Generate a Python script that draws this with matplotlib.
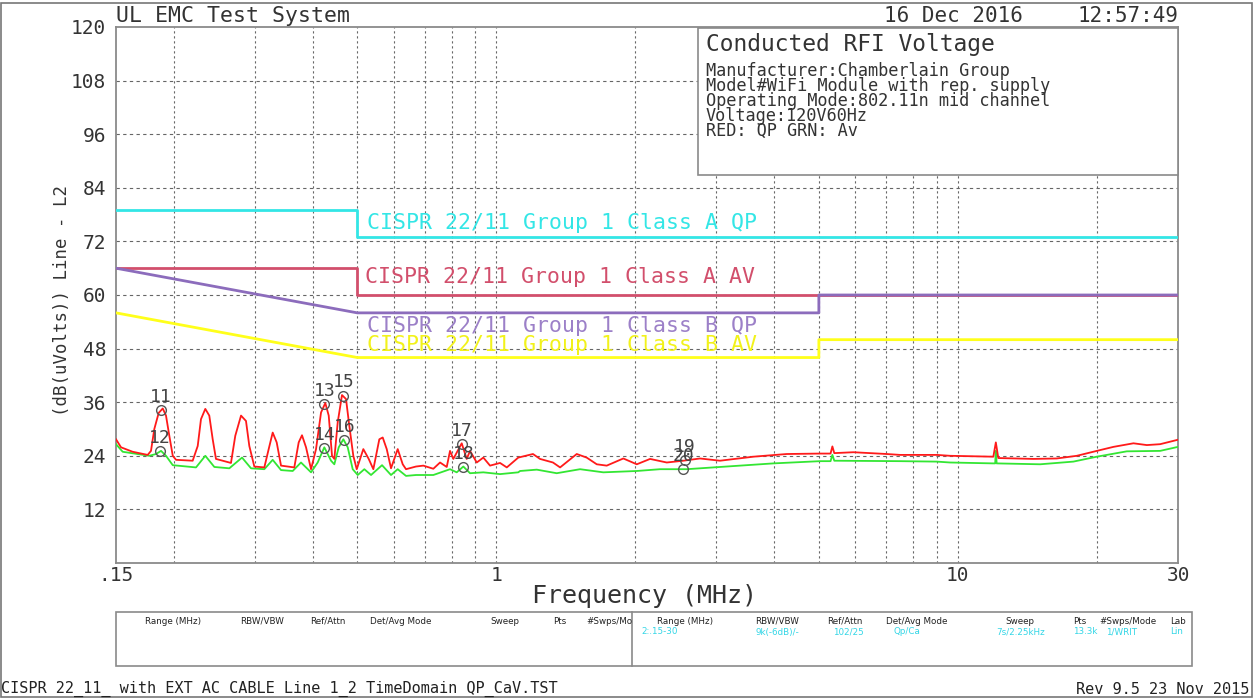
import matplotlib
matplotlib.use("Agg")
import matplotlib.pyplot as plt
from matplotlib.patches import Rectangle

# ---------------- data ----------------
red_freq = [0.1500, 0.1538, 0.1630, 0.1757, 0.1786, 0.1816, 0.1856, 0.1894, 0.1925, 0.1957,
            0.1991, 0.2024, 0.2199, 0.2255, 0.2292, 0.2342, 0.2389, 0.2430, 0.2470, 0.2662,
            0.2720, 0.2799, 0.2869, 0.2917, 0.2991, 0.3144, 0.3213, 0.3278, 0.3344, 0.3417,
            0.3651, 0.3732, 0.3794, 0.3871, 0.3969, 0.4069, 0.4172, 0.4262, 0.4335, 0.4407,
            0.4458, 0.4534, 0.4632, 0.4726, 0.4804, 0.4901, 0.4985, 0.5152, 0.5292, 0.5416,
            0.5580, 0.5675, 0.5790, 0.5915, 0.6116, 0.6271, 0.6375, 0.6701, 0.6950, 0.7305,
            0.7554, 0.7811, 0.7940, 0.8072, 0.8417, 0.8630, 0.8773, 0.9072, 0.9375, 0.9694,
            1.019, 1.054, 1.116, 1.201, 1.244, 1.327, 1.375, 1.494, 1.570, 1.651,
            1.735, 1.885, 2.016, 2.154, 2.341, 2.543, 2.764, 3.054, 3.606, 4.260,
            5.030, 5.30, 5.349, 5.40, 5.939, 7.016, 7.498, 9.003, 9.621, 11.94,
            12.09, 12.24, 14.58, 16.38, 18.11, 20.01, 21.74, 24.02, 25.68, 27.44,
            30.0]
red_level = [27.7, 25.9, 24.9, 24.2, 25.1, 30.0, 33.6, 34.6, 33.0, 28.5,
             24.0, 23.1, 22.9, 26.2, 32.2, 34.5, 33.0, 27.7, 23.3, 22.4,
             28.5, 33.0, 31.8, 26.2, 21.6, 21.4, 25.5, 29.2, 27.0, 21.8,
             21.4, 27.0, 28.6, 25.9, 21.0, 25.5, 33.7, 35.8, 33.0, 24.0,
             23.3, 31.5, 37.6, 36.7, 30.7, 24.0, 21.0, 25.5, 23.3, 21.0,
             27.7, 28.1, 25.5, 21.2, 25.5, 22.1, 21.0, 21.6, 21.8, 21.1,
             22.5, 21.5, 25.1, 23.3, 26.8, 23.3, 25.1, 22.5, 23.6, 21.8,
             22.4, 21.4, 23.6, 24.4, 23.3, 22.5, 21.4, 24.4, 23.6, 22.1,
             21.8, 23.4, 22.1, 23.3, 22.5, 22.9, 23.4, 22.9, 23.8, 24.4,
             24.5, 24.5, 26.1, 24.6, 24.8, 24.4, 24.2, 24.2, 24.0, 23.8,
             27.0, 23.5, 23.3, 23.4, 24.0, 25.1, 26.0, 26.8, 26.4, 26.6,
             27.6]

green_freq = [0.1500, 0.1551, 0.1771, 0.1831, 0.1878, 0.1925, 0.1991, 0.2236, 0.2342, 0.2450,
              0.2640, 0.2813, 0.2942, 0.3144, 0.3278, 0.3417, 0.3622, 0.3775, 0.3969, 0.4103,
              0.4241, 0.4385, 0.4458, 0.4557, 0.4663, 0.4766, 0.4886, 0.5010, 0.5178, 0.5354,
              0.5656, 0.5915, 0.6116, 0.6375, 0.6701, 0.7305, 0.7940, 0.8210, 0.8485, 0.8773,
              0.9375, 1.019, 1.116, 1.126, 1.224, 1.352, 1.519, 1.706, 2.016, 2.264,
              2.587, 3.054, 3.985, 5.030, 5.30, 5.349, 5.40, 7.498, 9.003, 9.621,
              11.94, 12.05, 12.09, 12.14, 15.08, 17.80, 20.01, 23.24, 27.44, 30.0]
green_level = [26.6, 24.9, 24.0, 24.4, 25.1, 24.0, 21.9, 21.4, 24.0, 21.5,
               21.2, 23.6, 21.2, 21.0, 23.1, 20.8, 20.6, 22.5, 20.3, 22.5,
               25.9, 22.9, 22.1, 25.9, 27.7, 25.9, 21.0, 19.7, 21.0, 19.7,
               21.9, 19.7, 21.0, 19.5, 19.7, 19.7, 21.0, 20.3, 21.6, 20.1,
               20.3, 19.9, 20.3, 20.6, 20.9, 20.1, 21.0, 20.3, 20.6, 21.0,
               21.0, 21.5, 22.3, 22.8, 22.8, 24.2, 22.9, 22.8, 22.7, 22.5,
               22.3, 22.3, 25.1, 22.3, 22.1, 22.7, 23.8, 25.0, 25.1, 26.0]

limit_a_qp_freq = [0.15, 0.5, 0.5, 30]
limit_a_qp = [79, 79, 73, 73]
limit_a_av_freq = [0.15, 0.5, 0.5, 30]
limit_a_av = [66, 66, 60, 60]
limit_b_qp_freq = [0.15, 0.5, 5, 5, 30]
limit_b_qp = [66, 56, 56, 60, 60]
limit_b_av_freq = [0.15, 0.5, 5, 5, 30]
limit_b_av = [56, 46, 46, 50, 50]
limit_names = ["CISPR 22/11 Group 1 Class A QP", "CISPR 22/11 Group 1 Class A AV",
               "CISPR 22/11 Group 1 Class B QP", "CISPR 22/11 Group 1 Class B AV"]
limit_label_freq = [0.5247, 0.5185, 0.5247, 0.5247]
limit_label_level = [76.1, 64.0, 53.0, 48.8]

marker_ids = ["11", "12", "13", "14", "15", "16", "17", "18", "19", "20"]
marker_freq = [0.1878, 0.1868, 0.4241, 0.4241, 0.4663, 0.4686, 0.8417, 0.8485, 2.56, 2.54]
marker_level = [34.3, 25.1, 35.6, 25.8, 37.5, 27.5, 26.7, 21.4, 23.0, 21.0]

yticks = [12, 24, 36, 48, 60, 72, 84, 96, 108, 120]
xticks = [0.15, 1, 10, 30]
xticklabels = [".15", "1", "10", "30"]
xgrid = [0.2, 0.3, 0.4, 0.5, 0.6, 0.7, 0.8, 0.9, 1, 2, 3, 4, 5, 6, 7, 8, 9, 10, 20]

# ---------------- figure ----------------
W, H = 1254, 700
MONO = "DejaVu Sans Mono"
TXT = "#333333"
fig = plt.figure(figsize=(W / 100, H / 100), dpi=100)

def fx(x):
    return x / W

def fy(y):
    return 1 - y / H

ax = fig.add_axes([fx(116), fy(563), fx(1178) - fx(116), fy(27) - fy(563)])
ax.set_xscale("log")
ax.set_xlim(0.15, 30)
ax.set_ylim(0, 120)
ax.set_yticks(yticks)
ax.set_xticks(xticks)
ax.set_xticklabels(xticklabels)
ax.xaxis.set_minor_locator(matplotlib.ticker.NullLocator())
ax.tick_params(length=0, labelsize=14, labelcolor=TXT)
ax.tick_params(axis="y", pad=7)
ax.tick_params(axis="x", pad=2)
for lab in ax.get_xticklabels() + ax.get_yticklabels():
    lab.set_family(MONO)
for s in ax.spines.values():
    s.set_color("#8a8a8a")
    s.set_linewidth(1.3)

for y in yticks[:-1]:
    ax.axhline(y, color="#666666", lw=0.8, ls=(0, (3, 3)), zorder=1)
for f in xgrid:
    ax.axvline(f, color="#666666", lw=0.8, ls=(0, (2, 2.5)), zorder=1)

# limit lines
ax.plot(limit_a_qp_freq, limit_a_qp, color="#33e6e6", lw=2, zorder=3)
ax.plot(limit_a_av_freq, limit_a_av, color="#d24f6c", lw=2, zorder=3)
ax.plot(limit_b_qp_freq, limit_b_qp, color="#8c6cbc", lw=2, zorder=3.1)
ax.plot(limit_b_av_freq, limit_b_av, color="#ffff1a", lw=2, zorder=3)
lim_colors = ["#33e6e6", "#d24f6c", "#9c80c8", "#f2f21a"]
for name, lf, lvl, c in zip(limit_names, limit_label_freq, limit_label_level, lim_colors):
    ax.text(lf, lvl, name, color=c, fontsize=15.5, family=MONO, ha="left", va="center",
            zorder=3)

# traces
ax.plot(green_freq, green_level, color="#33e633", lw=1.3, zorder=4)
ax.plot(red_freq, red_level, color="#ff1a1a", lw=1.3, zorder=5)

# markers
ax.plot(marker_freq, marker_level, ls="none", marker="o", ms=7, mfc="none",
        mec="#555555", mew=1.0, zorder=6)
for mid, f, l in zip(marker_ids, marker_freq, marker_level):
    ax.annotate(mid, (f, l), xytext=(0, 9.5), textcoords="offset points", ha="center",
                va="center", fontsize=13, family=MONO, color="#444444", zorder=7)

# info box
ax.add_patch(Rectangle((fx(698), fy(175)), fx(1178) - fx(698), fy(28) - fy(175),
                       transform=fig.transFigure, facecolor="white", edgecolor="#8a8a8a",
                       lw=1.2, zorder=10, clip_on=False))
ax.text(fx(706), fy(44), "Conducted RFI Voltage", transform=fig.transFigure, fontsize=16.5,
        family=MONO, color=TXT, va="center", ha="left", zorder=11)
info_lines = ["Manufacturer:Chamberlain Group", "Model#WiFi Module with rep. supply",
              "Operating Mode:802.11n mid channel", "Voltage:120V60Hz", "RED: QP GRN: Av"]
ax.text(fx(706), fy(62), "\n".join(info_lines), transform=fig.transFigure, fontsize=12.2,
        family=MONO, color=TXT, va="top", ha="left", linespacing=0.78, zorder=11)

# header / footer text
fig.text(fx(116), fy(16), "UL EMC Test System", fontsize=15.5, family=MONO, color=TXT,
         va="center", ha="left")
fig.text(fx(1023), fy(16), "16 Dec 2016", fontsize=15, family=MONO, color=TXT,
         va="center", ha="right")
fig.text(fx(1178), fy(16), "12:57:49", fontsize=15, family=MONO, color=TXT,
         va="center", ha="right")
fig.text(fx(62), fy(300), "(dB(uVolts)) Line - L2", fontsize=12.5, family=MONO, color=TXT,
         rotation=90, va="center", ha="center")
fig.text(fx(645), fy(596), "Frequency (MHz)", fontsize=18, family=MONO, color=TXT,
         va="center", ha="center")
fig.text(fx(1), fy(689), "CISPR 22_11_ with EXT AC CABLE Line 1_2 TimeDomain QP_CaV.TST",
         fontsize=11, family=MONO, color="#222222", va="center", ha="left")
fig.text(fx(1249), fy(689), "Rev 9.5 23 Nov 2015", fontsize=11, family=MONO,
         color="#222222", va="center", ha="right")

# bottom table box
fig.patches.append(Rectangle((fx(116), fy(666)), fx(1192) - fx(116), fy(612) - fy(666),
                             transform=fig.transFigure, facecolor="none",
                             edgecolor="#8a8a8a", lw=1.2))
fig.lines.append(plt.Line2D([fx(632), fx(632)], [fy(612), fy(666)],
                            transform=fig.transFigure, color="#8a8a8a", lw=1.2))
hdr_left = [("Range (MHz)", 145), ("RBW/VBW", 240), ("Ref/Attn", 310), ("Det/Avg Mode", 370),
            ("Sweep", 490), ("Pts", 553), ("#Swps/Mo", 586)]
hdr_right = [("Range (MHz)", 657), ("RBW/VBW", 755), ("Ref/Attn", 827), ("Det/Avg Mode", 886),
             ("Sweep", 1005), ("Pts", 1073), ("#Swps/Mode", 1099), ("Lab", 1170)]
vals_right = [("2:.15-30", 641), ("9k(-6dB)/-", 755), ("102/25", 833), ("Qp/Ca", 893),
              ("7s/2.25kHz", 996), ("13.3k", 1073), ("1/WRIT", 1106), ("Lin", 1170)]
for t, x in hdr_left + hdr_right:
    fig.text(fx(x), fy(621), t, fontsize=6.3, family="DejaVu Sans", color="#222222",
             va="center", ha="left")
for t, x in vals_right:
    fig.text(fx(x), fy(632), t, fontsize=6.3, family="DejaVu Sans", color="#33d6e6",
             va="center", ha="left")

# outer frame
fig.patches.append(Rectangle((fx(1), fy(697)), fx(1252) - fx(1), fy(3) - fy(697),
                             transform=fig.transFigure, facecolor="none",
                             edgecolor="#777777", lw=1.2))

fig.savefig("out.png", dpi=100)
